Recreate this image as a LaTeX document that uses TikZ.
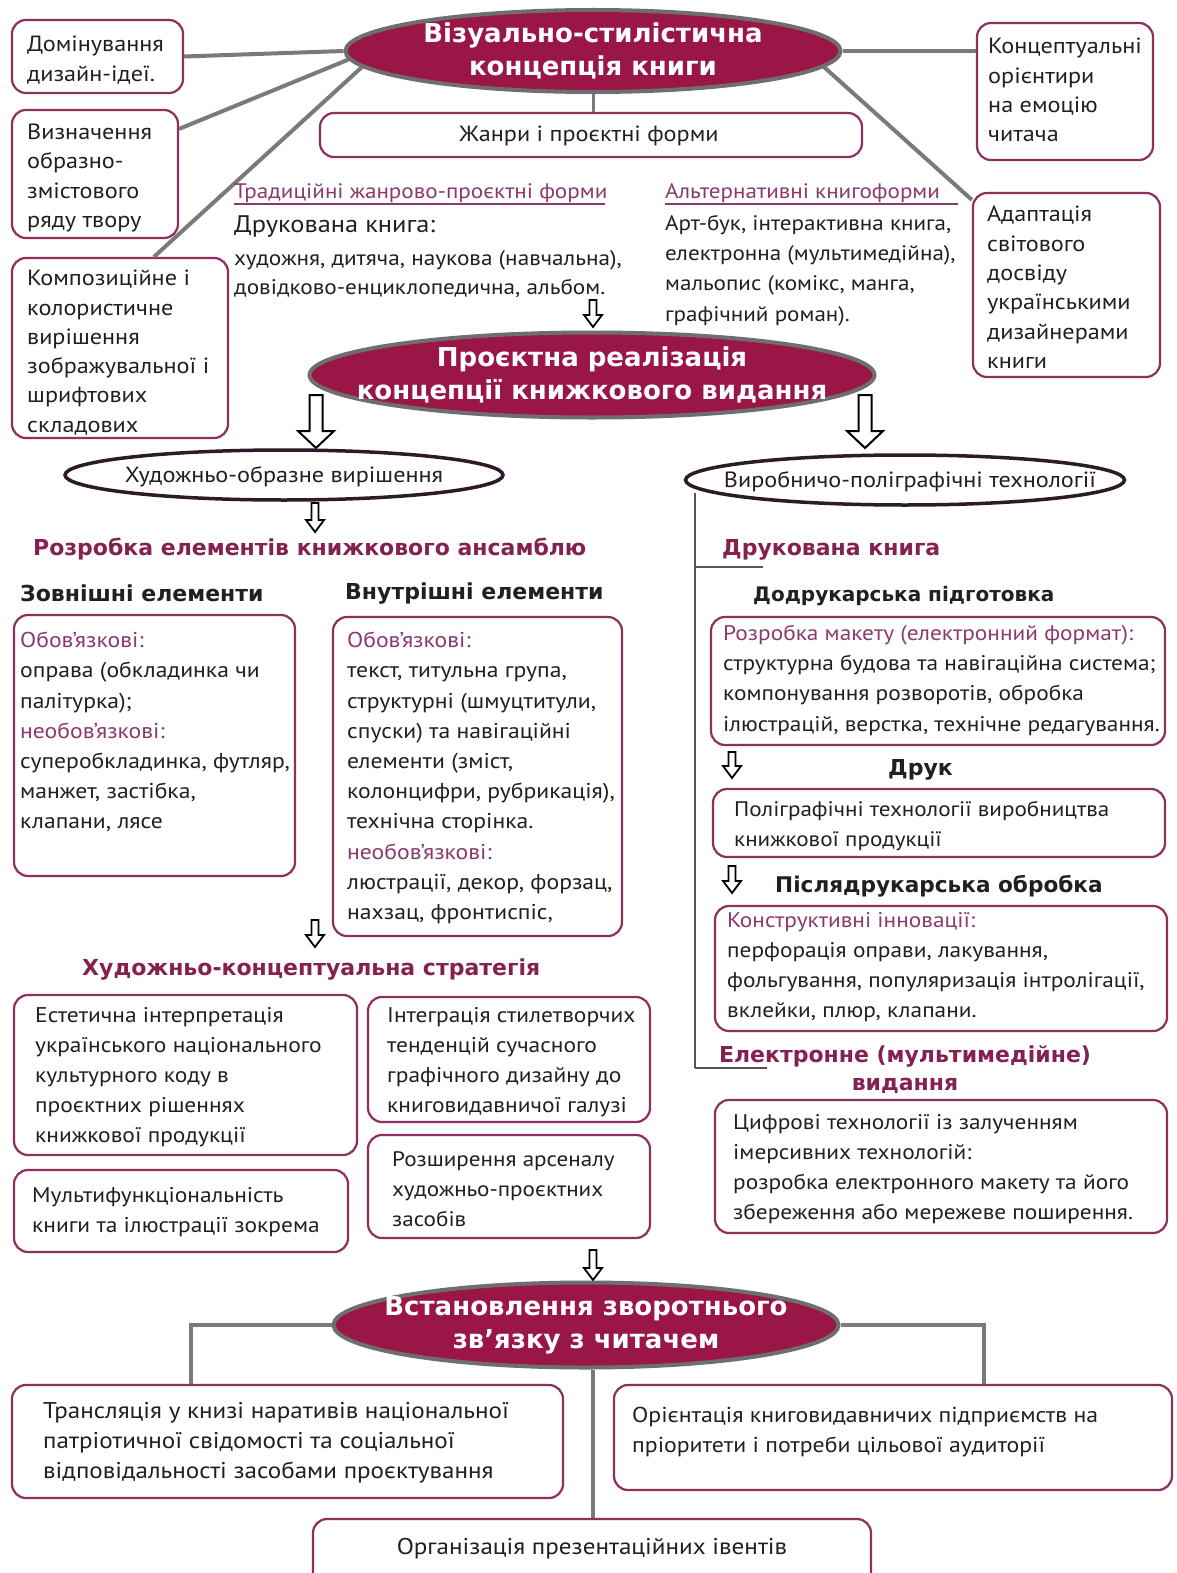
\documentclass[tikz,border=0pt]{standalone}
\usepackage{fontspec}
\setmainfont{PT Sans}[FakeStretch=1.1]
\newfontfamily\hfont{DejaVu Sans}
\usetikzlibrary{fit,shapes.geometric,calc}
\definecolor{maroon}{HTML}{9A1646}
\definecolor{egray}{HTML}{6E6E6E}
\definecolor{boxc}{HTML}{8E2F60}
\definecolor{ptext}{HTML}{8B3A6E}
\definecolor{phead}{HTML}{852151}
\definecolor{lgray}{HTML}{7A7A7A}
\definecolor{dark}{HTML}{2B1B2B}
\definecolor{tx}{HTML}{231F20}
\newcommand\harrow[7]{%
  \draw[line width=#7, draw=black, fill=white, line join=miter]
    (#1-#4,#2) -- (#1+#4,#2) -- (#1+#4,#3-#6) -- (#1+#5,#3-#6) -- (#1,#3)
    -- (#1-#5,#3-#6) -- (#1-#4,#3-#6) -- cycle;}
\newcommand\pt[1]{\textcolor{ptext}{#1}}
\newcommand\fs[2]{\fontsize{#1}{#2}\selectfont}
\begin{document}
\begin{tikzpicture}[x=1pt,y=-1pt,
  rbox/.style={draw=boxc, line width=2.2pt, rounded corners=14pt, inner sep=0pt},
  txt/.style={anchor=north west, inner sep=0pt, align=left, text=tx,
    font=\fs{22}{29.5}},
  stxt/.style={txt, font=\fs{21}{30.2}},
  mainell/.style={ellipse, fill=maroon, draw=egray, line width=4pt, inner sep=0pt},
  elltext/.style={inner sep=0pt, text=white, align=center, font=\hfont\bfseries\fs{26}{33}},
  subell/.style={ellipse, fill=white, draw=dark, line width=3.5pt, inner sep=0pt},
  ctext/.style={inner sep=0pt, text=tx, font=\fs{22}{26}},
  conn/.style={draw=lgray, line width=4pt},
  thin/.style={draw=lgray!70!black, line width=1.3pt},
  bhead/.style={anchor=west, inner sep=0pt, text=tx, font=\hfont\bfseries\fs{22}{28}},
  phd/.style={bhead, text=phead},
]
\useasboundingbox[fill=white] (0,0) rectangle (1177,1573);

% ---------- top ellipse ----------
\node[mainell, minimum width=495pt, minimum height=82pt] (E1) at (593,51) {};
\node[elltext] (E1t) at (E1.center) {Візуально-стилістична\\концепція книги};

% left boxes
\node[rbox, fit={(12,20) (183,93)}] (A) {};
\node[txt] (At) at (27,36) {Домінування\\дизайн-ідеї.};
\node[rbox, fit={(12,110) (178,238)}] (B) {};
\node[txt, font=\fs{22}{29.2}] (Bt) at (27,124) {Визначення\\образно-\\змістового\\ряду твору};
\node[rbox, fit={(12,258) (228,438)}] (C) {};
\node[txt, font=\fs{22}{29.3}] (Ct) at (27,270) {Композиційне і\\колористичне\\вирішення\\зображувальної і\\шрифтових\\складових};
% right boxes
\node[rbox, fit={(977,23) (1153,160)}] (D) {};
\node[txt, font=\fs{22}{29.3}] (Dt) at (988,38) {Концептуальні\\орієнтири\\на емоцію\\читача};
\node[rbox, fit={(973,193) (1160,377)}] (E) {};
\node[txt, font=\fs{22}{29.3}] (Et) at (987,206) {Адаптація\\світового\\досвіду\\українськими\\дизайнерами\\книги};

\draw[conn] (A.east) -- (E1.west);
\draw[conn] ($(B.north east)+(0,20)$) -- (E1.182);
\draw[conn] ($(C.north west)+(143,0)$) -- (E1.184);
\draw[conn] (E1.east) -- (E1.east -| D.west);
\draw[conn] (E1.356) -- ($(E.north west)+(0,8)$);

% genres
\node[rbox, fit={(320,113) (862,157)}] (G0) {};
\node[ctext] (G0t) at (589,136) {Жанри і проєктні форми};
\draw[draw=lgray, line width=3pt] (E1.south) -- (G0.north -| E1.south);

\node[txt, text=ptext, font=\fs{21}{26}] (trad) at (234,183) {Традиційні жанрово-проєктні форми};
\draw[draw=ptext, line width=1.2pt] (234,204) -- (605,204);
\node[txt, font=\fs{24}{30}] (druk) at (234,216) {Друкована книга:};
\node[txt, font=\fs{21.1}{29}] (drukt) at (234,250) {художня, дитяча, наукова (навчальна),\\довідково-енциклопедична, альбом.};
\node[txt, text=ptext, font=\fs{21}{26}] (alt) at (665,183) {Альтернативні книгоформи};
\draw[draw=ptext, line width=1.2pt] (665,204) -- (958,204);
\node[stxt] (altt) at (665,215) {Арт-бук, інтерактивна книга,\\електронна (мультимедійна),\\мальопис (комікс, манга,\\графічний роман).};

\harrow{593}{300}{327}{3.5}{9}{12}{1.8pt}

% ---------- second ellipse ----------
\node[mainell, minimum width=565pt, minimum height=85pt] (E2) at (592,375) {};
\node[elltext] (E2t) at (E2.center) {Проєктна реалізація\\концепції книжкового видання};

\harrow{316}{395}{448}{6.5}{18}{17}{2pt}
\harrow{865}{395}{448}{6.5}{18}{17}{2pt}

\node[subell, minimum width=438pt, minimum height=50pt] (E3) at (284,475) {};
\node[ctext] (E3t) at (284,477) {Художньо-образне вирішення};
\node[subell, minimum width=439pt, minimum height=50pt] (E4) at (905,480) {};
\node[ctext] (E4t) at (910,482) {Виробничо-поліграфічні технології};

\harrow{315}{503}{532}{3.5}{9}{12}{1.8pt}

\node[phd] (ans) at (33,549) {Розробка елементів книжкового ансамблю};
\node[bhead] (ext) at (20,593) {Зовнішні елементи};
\node[bhead] (int) at (345,594) {Внутрішні елементи};

\node[rbox, fit={(14,615) (295,876)}] (F) {};
\node[stxt, font=\fs{21.5}{30.2}] (Ft) at (20,632) {\pt{Обов’язкові:}\\оправа (обкладинка чи\\палітурка);\\\pt{необов’язкові:}\\суперобкладинка, футляр,\\манжет, застібка,\\клапани, лясе};
\node[rbox, fit={(333,617) (622,936)}] (Gb) {};
\node[stxt, font=\fs{21.5}{30.2}] (Gt) at (347,632) {\pt{Обов’язкові:}\\текст, титульна група,\\структурні (шмуцтитули,\\спуски) та навігаційні\\елементи (зміст,\\колонцифри, рубрикація),\\технічна сторінка.\\\pt{необов’язкові:}\\люстрації, декор, форзац,\\нахзац, фронтиспіс,};

\harrow{315}{920}{947}{3.5}{9}{12}{1.8pt}
\node[phd] (strat) at (82,970) {Художньо-концептуальна стратегія};

\node[rbox, fit={(14,995) (357,1155)}] (H) {};
\node[txt, font=\fs{21.3}{30}] (Ht) at (35,1007) {Естетична інтерпретація\\українського національного\\культурного коду в\\проєктних рішеннях\\книжкової продукції};
\node[rbox, fit={(14,1170) (348,1252)}] (I) {};
\node[txt, font=\fs{21.3}{30}] (It) at (32,1187) {Мультифункціональність\\книги та ілюстрації зокрема};
\node[rbox, fit={(368,997) (650,1122)}] (J) {};
\node[txt, font=\fs{21.3}{30}] (Jt) at (387,1007) {Інтеграція стилетворчих\\тенденцій сучасного\\графічного дизайну до\\книговидавничої галузі};
\node[rbox, fit={(368,1135) (650,1238)}] (K) {};
\node[txt, font=\fs{21}{30}] (Kt) at (392,1151) {Розширення арсеналу\\художньо-проєктних\\засобів};

% ---------- right column ----------
\coordinate (vtop) at (695,493);
\coordinate (vbot) at (695,1068);
\draw[thin] (vtop) -- (vbot);
\draw[thin] (695,567) -- (763,567);
\draw[thin] (vbot) -- (767,1068);

\node[phd] (dk) at (722,550) {Друкована книга};
\node[bhead, font=\hfont\bfseries\fs{20}{26}] (dod) at (753,596) {Додрукарська підготовка};
\node[rbox, fit={(711,617) (1165,745)}] (L) {};
\node[stxt, font=\fs{21.2}{30.2}] (Lt) at (723,625) {\pt{Розробка макету (електронний формат):}\\структурна будова та навігаційна система;\\компонування розворотів, обробка\\ілюстрацій, верстка, технічне редагування.};
\harrow{732}{752}{778}{3.5}{9}{12}{1.8pt}
\node[bhead] (dr) at (888,770) {Друк};
\node[rbox, fit={(713,789) (1165,857)}] (M) {};
\node[stxt] (Mt) at (734,801) {Поліграфічні технології виробництва\\книжкової продукції};
\harrow{732}{866}{893}{3.5}{9}{12}{1.8pt}
\node[bhead, font=\hfont\bfseries\fs{21.6}{28}] (post) at (775,886) {Післядрукарська обробка};
\node[rbox, fit={(715,906) (1167,1031)}] (N) {};
\node[stxt, font=\fs{21.2}{30.2}] (Nt) at (727,912) {\pt{Конструктивні інновації:}\\перфорація оправи, лакування,\\фольгування, популяризація інтролігації,\\вклейки, плюр, клапани.};
\node[phd, anchor=center, align=center] (el) at (905,1070) {Електронне (мультимедійне)\\видання};
\node[rbox, fit={(715,1100) (1167,1233)}] (O) {};
\node[stxt, font=\fs{21.2}{30.2}] (Ot) at (733,1114) {Цифрові технології із залученням\\імерсивних технологій:\\розробка електронного макету та його\\збереження або мережеве поширення.};

% ---------- bottom ----------
\harrow{593}{1250}{1280}{3.5}{9}{12}{1.8pt}
\node[mainell, minimum width=505pt, minimum height=85pt] (E5) at (586,1325) {};
\node[elltext] (E5t) at (E5.center) {Встановлення зворотнього\\зв’язку з читачем};

\node[rbox, fit={(12,1385) (563,1498)}] (P) {};
\node[txt, font=\fs{22.8}{30}] (Pt) at (43,1402) {Трансляція у книзі наративів національної\\патріотичної свідомості та соціальної\\відповідальності засобами проєктування};
\node[rbox, fit={(614,1385) (1172,1490)}] (Q) {};
\node[txt, font=\fs{21.6}{30}] (Qt) at (632,1407) {Орієнтація книговидавничих підприємств на\\пріоритети і потреби цільової аудиторії};
\node[rbox, fit={(313,1519) (871,1595)}] (R) {};
\node[ctext, font=\fs{22.8}{26}] (Rt) at (592,1549) {Організація презентаційних івентів};

\draw[conn] (E5.west) -| (P.north -| 191,0);
\draw[conn] (E5.east) -| (Q.north -| 984,0);
\draw[conn] (E5.south -| 593,0) -- (R.north -| 593,0);
\end{tikzpicture}
\end{document}
